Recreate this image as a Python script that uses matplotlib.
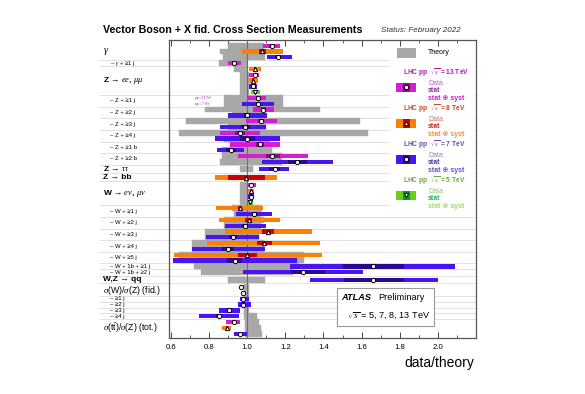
import numpy as np
import matplotlib
matplotlib.use('Agg')
import matplotlib.pyplot as plt
from matplotlib.patches import Rectangle
from matplotlib.lines import Line2D
from matplotlib.transforms import Affine2D, blended_transform_factory

plt.rcParams['font.family'] = ['Liberation Sans', 'DejaVu Sans']
plt.rcParams['mathtext.fontset'] = 'custom'
plt.rcParams['mathtext.rm'] = 'Liberation Sans'
plt.rcParams['mathtext.it'] = 'Liberation Serif:italic'
plt.rcParams['mathtext.bf'] = 'Liberation Sans:bold'

# rows of the summary (label, kind, number of measurements)
# kind: 'h' bold header, 'r' ratio header, 's' sub row
row_labels = [
    r'$\gamma$', r'– $\gamma$ + ≥1 j', r'Z → $ee$, $\mu\mu$',
    '– Z + ≥1 j', '– Z + ≥2 j', '– Z + ≥3 j', '– Z + ≥4 j', '– Z + ≥1 b', '– Z + ≥2 b',
    r'Z → $\tau\tau$', 'Z → bb', r'W → $e\nu$, $\mu\nu$',
    '– W + ≥1 j', '– W + ≥2 j', '– W + ≥3 j', '– W + ≥4 j', '– W + ≥5 j',
    '– W + 1b + ≥1 j', '– W + 1b + ≥2 j', 'W,Z → qq',
    r'$\sigma$(W)/$\sigma$(Z) (fid.)', '– ≥1 j', '– ≥2 j', '– ≥3 j', '– ≥4 j',
    r'$\sigma$(t$\bar{\rm t}$)/$\sigma$(Z) (tot.)',
]
row_kind = ['h', 's', 'h', 's', 's', 's', 's', 's', 's', 'h', 'h', 'h',
            's', 's', 's', 's', 's', 's', 's', 'h', 'r', 's', 's', 's', 's', 'r']
row_sizes = [3, 1, 5, 2, 2, 2, 2, 2, 2, 1, 1, 4, 2, 2, 2, 2, 2, 1, 1, 1, 2, 1, 1, 1, 1, 3]
row_gap = [0, 0, 0, 0, 0, 0, 0, 0, 0, 0.2, 0.5, 0.3, 0, 0, 0, 0, 0, 0, 0, 0.3, 0.3,
           0, 0, 0, 0, 0]

# one entry per measurement
energy = ['13', '8', '7',
          '13',
          '8', '13', '8', '7', '5',
          '13', '7', '13', '7', '13', '7', '13', '7',
          '13', '7', '13', '7',
          '7',
          '8',
          '13', '8', '7', '5',
          '8', '7', '8', '7', '8', '7', '8', '7', '8', '7',
          '7', '7',
          '7',
          '13', '7',
          '7', '7', '7', '7',
          '13', '8', '7']
value = [1.13, 1.08, 1.16,
         0.93,
         1.04, 1.04, 1.03, 1.03, 1.04,
         1.056, 1.055, 1.085, 1.0, 1.073, 0.99, 0.963, 1.0,
         1.068, 0.915, 1.13, 1.26,
         1.147,
         0.995,
         1.02, 1.02, 1.02, 1.017,
         0.963, 1.037, 1.007, 0.99, 1.11, 0.925, 1.09, 0.90, 1.0, 0.934,
         1.66, 1.295,
         1.66,
         0.97, 0.98,
         0.978, 0.978, 0.907, 0.85,
         0.93, 0.894, 0.963]
tot_lo = [1.085, 0.975, 1.105,
          0.90,
          1.01, 1.01, 1.01, 1.01, 1.02,
          1.0, 0.975, 1.03, 0.90, 0.995, 0.86, 0.86, 0.83,
          0.91, 0.84, 0.95, 1.08,
          1.06,
          0.83,
          1.0, 1.005, 1.005, 1.005,
          0.836, 0.94, 0.85, 0.885, 0.885, 0.785, 0.79, 0.71, 0.615, 0.61,
          1.225, 0.98,
          1.33,
          0.96, 0.975,
          0.96, 0.95, 0.85, 0.745,
          0.89, 0.87, 0.93]
tot_hi = [1.17, 1.19, 1.235,
          0.97,
          1.07, 1.06, 1.055, 1.05, 1.065,
          1.10, 1.14, 1.14, 1.105, 1.155, 1.10, 1.065, 1.17,
          1.17, 0.985, 1.32, 1.45,
          1.22,
          1.155,
          1.045, 1.035, 1.035, 1.03,
          1.085, 1.13, 1.17, 1.10, 1.34, 1.06, 1.38, 1.095, 1.39, 1.26,
          2.09, 1.61,
          2.0,
          0.985, 0.985,
          1.01, 1.02, 0.963, 0.958,
          0.963, 0.915, 1.0]
stat_lo = [1.115, 1.06, 1.145,
           0.92,
           1.035, 1.035, 1.025, 1.025, 1.035,
           1.045, 1.045, 1.07, 0.985, 1.055, 0.965, 0.935, 0.96,
           1.045, 0.89, 1.10, 1.216,
           1.115,
           0.90,
           1.015, 1.015, 1.015, 1.012,
           0.95, 1.025, 0.99, 0.975, 1.08, 0.905, 1.05, 0.87, 0.95, 0.894,
           1.50, 1.23,
           1.51,
           0.965, 0.978,
           0.972, 0.97, 0.895, 0.835,
           0.92, 0.887, 0.955]
stat_hi = [1.145, 1.10, 1.175,
           0.94,
           1.045, 1.045, 1.035, 1.035, 1.045,
           1.065, 1.065, 1.10, 1.015, 1.09, 1.015, 0.99, 1.04,
           1.09, 0.94, 1.17, 1.313,
           1.17,
           1.095,
           1.025, 1.025, 1.025, 1.022,
           0.975, 1.05, 1.025, 1.005, 1.14, 0.945, 1.13, 0.93, 1.05, 0.972,
           1.82, 1.41,
           1.82,
           0.975, 0.982,
           0.985, 0.986, 0.92, 0.865,
           0.94, 0.90, 0.97]
theory_lo = [0.90, 0.86, 0.875,
             0.85,
             0.93, 0.96, 0.96, 0.96, 0.96,
             0.88, 0.88, 0.78, 0.92, 0.68, 0.90, 0.64, 0.88,
             0.91, 0.87, 0.87, 0.86,
             0.96,
             0.88,
             0.96, 0.96, 0.96, 0.96,
             0.92, 0.93, 0.88, 0.88, 0.78, 0.78, 0.71, 0.71, 0.64, 0.64,
             0.72, 0.76,
             0.90,
             0.985, 0.985,
             0.985, 0.985, 0.985, 0.985,
             0.99, 0.99, 0.99]
theory_hi = [1.09, 1.095, 1.095,
             1.0,
             1.0, 1.01, 1.01, 1.01, 1.01,
             1.19, 1.19, 1.38, 1.08, 1.59, 1.10, 1.635, 1.12,
             1.10, 1.13, 1.18, 1.18,
             1.03,
             1.12,
             1.005, 1.005, 1.005, 1.005,
             1.08, 1.07, 1.09, 1.07, 1.06, 1.06, 1.09, 1.09, 1.30, 1.30,
             1.27, 1.24,
             1.095,
             1.01, 1.01,
             1.01, 1.01, 1.01, 1.05,
             1.06, 1.075, 1.08]

# tiny notes next to the Z + >=1 j row
note_texts = ['pp = 13 TeV', 'pp = 7 TeV']
note_energy = ['13', '7']

energies = ['13', '8', '7', '5']
total_colors = {'13': '#d41ed4', '8': '#ff8000', '7': '#4a14f0', '5': '#6ccc1a'}
stat_colors = {'13': '#8a0a8a', '8': '#cc0000', '7': '#2a0a8c', '5': '#0a9a2a'}
markers = {'13': 'o', '8': '^', '7': 'o', '5': 'v'}
header_colors = {'13': '#b01eb0', '8': '#c84a1e', '7': '#6a4ab0', '5': '#6aaa3a'}
data_colors = {'13': '#c060c0', '8': '#e07050', '7': '#9080c0', '5': '#8cc86c'}
stat_text_colors = {'13': '#a020a0', '8': '#d02020', '7': '#5030a0', '5': '#20b060'}
syst_text_colors = {'13': '#c020c0', '8': '#f09030', '7': '#6050e0', '5': '#a0d860'}

W, H = 585, 394
fig = plt.figure(figsize=(W / 100, H / 100), dpi=100)
px = Affine2D().scale(1 / W, -1 / H).translate(0, 1) + fig.transFigure
ax = fig.add_axes([169 / W, 1 - 338 / H, 307 / W, 298 / H])
row_tr = blended_transform_factory(px, ax.transData)

energy = np.array(energy)
value = np.array(value)
tot_lo, tot_hi = np.array(tot_lo), np.array(tot_hi)
stat_lo, stat_hi = np.array(stat_lo), np.array(stat_hi)
theory_lo, theory_hi = np.array(theory_lo), np.array(theory_hi)

# vertical slot of every measurement, rows stacked top to bottom
ypos = []
row_first = []
pos = 0.0
for n, g in zip(row_sizes, row_gap):
    pos += g
    row_first.append(pos)
    ypos.extend(pos + np.arange(n))
    pos += n
ypos = np.array(ypos)

ax.barh(ypos, theory_hi - theory_lo, left=theory_lo, height=1.0, color='#a8a8a8',
        edgecolor='#a8a8a8', lw=0.3, zorder=1)
ax.axvline(1.0, color='#6e6e6e', lw=0.8, zorder=2)

for e in energies:
    m = energy == e
    ax.barh(ypos[m], tot_hi[m] - tot_lo[m], left=tot_lo[m], height=0.75,
            color=total_colors[e], lw=0, zorder=3)
    ax.barh(ypos[m], stat_hi[m] - stat_lo[m], left=stat_lo[m], height=0.75,
            color=stat_colors[e], lw=0, zorder=4)
    ax.plot(value[m], ypos[m], ls='none', marker=markers[e], ms=3.1, mfc='white',
            mec='black', mew=0.7, zorder=5)

z1j = row_first[row_labels.index('– Z + ≥1 j')]
for k, (t, e) in enumerate(zip(note_texts, note_energy)):
    ax.text(0.725, z1j + k, t, fontsize=2.2, color=header_colors[e], ha='left',
            va='center', zorder=2)

# row labels and separators
prev_end = None
for lab, kind, n, y0 in zip(row_labels, row_kind, row_sizes, row_first):
    yc = y0 + (n - 1) / 2
    if kind == 'h':
        fs = 7.5 if lab == r'$\gamma$' else 6.0
        ax.text(103, yc, lab, transform=row_tr, fontsize=fs, fontweight='bold',
                ha='left', va='center', clip_on=False)
    elif kind == 'r':
        ax.text(103, yc, lab, transform=row_tr, fontsize=6.3, ha='left',
                va='center', clip_on=False)
    else:
        ax.text(110, yc, lab, transform=row_tr, fontsize=4.3, ha='left',
                va='center', clip_on=False)
    if prev_end is not None:
        ysep = (prev_end + y0) / 2
        ax.add_line(Line2D([100, 476], [ysep, ysep], transform=row_tr,
                           color='#d6d6d6', lw=0.5, zorder=0.5, clip_on=False))
    prev_end = y0 + n - 1

ax.set_xlim(0.59, 2.2)
ax.set_ylim(ypos[-1] + 0.74, -0.98)
ax.set_yticks([])
ax.set_xticks(np.arange(0.6, 2.01, 0.2))
ax.set_xticks(np.arange(0.6, 2.2, 0.1), minor=True)
ax.tick_params(axis='x', which='both', direction='in', top=True, labelsize=5.6,
               pad=4.5, color='#444444')
ax.tick_params(axis='x', which='major', length=4, width=0.7)
ax.tick_params(axis='x', which='minor', length=2, width=0.6)
for s in ax.spines.values():
    s.set_color('#555555')
    s.set_linewidth(0.9)

# legend area
ax.add_patch(Rectangle((390, 41), 85, 172, transform=px, facecolor='white',
                       edgecolor='none', zorder=1.5, clip_on=False))
fig.add_artist(Rectangle((397, 48), 19, 10, transform=px, facecolor='#a8a8a8',
                         edgecolor='none'))
fig.text(428, 53, 'Theory', transform=px, fontsize=5, va='center')
for k, e in enumerate(energies):
    hy = 72.7 + 36.1 * k
    fig.text(403, hy, r'LHC pp  $\sqrt{s}$ = ' + e + ' TeV', transform=px, fontsize=4.8,
             fontweight='bold', color=header_colors[e], va='center')
    fig.add_artist(Rectangle((396, hy + 10), 20, 9, transform=px,
                             facecolor=total_colors[e], edgecolor='none'))
    fig.add_artist(Rectangle((402.5, hy + 10), 7, 9, transform=px,
                             facecolor=stat_colors[e], edgecolor='none'))
    fig.add_artist(Line2D([406], [hy + 14.5], transform=px, marker=markers[e], ms=3.1,
                          mfc='white', mec='black', mew=0.7))
    fig.text(428, hy + 10.5, 'Data', transform=px, fontsize=5, color=data_colors[e],
             va='center')
    fig.text(428, hy + 18, 'stat', transform=px, fontsize=5, color=stat_text_colors[e],
             va='center', fontweight='bold')
    fig.text(428, hy + 25.3, 'stat ⊕ syst', transform=px, fontsize=5,
             color=syst_text_colors[e], va='center', fontweight='bold')

# ATLAS box
fig.add_artist(Rectangle((336.5, 288.3), 97, 38, transform=px, facecolor='white',
                         edgecolor='#9a9a9a', lw=0.8))
fig.text(341, 298, 'ATLAS', transform=px, fontsize=6.6, fontweight='bold',
         style='italic', va='center')
fig.text(378, 298, 'Preliminary', transform=px, fontsize=6.6, va='center')
fig.text(347, 316, r'$\sqrt{s}$ = 5, 7, 8, 13 TeV', transform=px, fontsize=6.6,
         va='center')

fig.text(103, 30, 'Vector Boson + X fid. Cross Section Measurements', transform=px,
         fontsize=7.7, fontweight='bold', va='center')
fig.text(381, 31, 'Status: February 2022', transform=px, fontsize=5.8, style='italic',
         color='#333333', va='center')
fig.text(474, 363, 'data/theory', transform=px, fontsize=10, ha='right', va='center')

fig.savefig('out.png', dpi=100)
